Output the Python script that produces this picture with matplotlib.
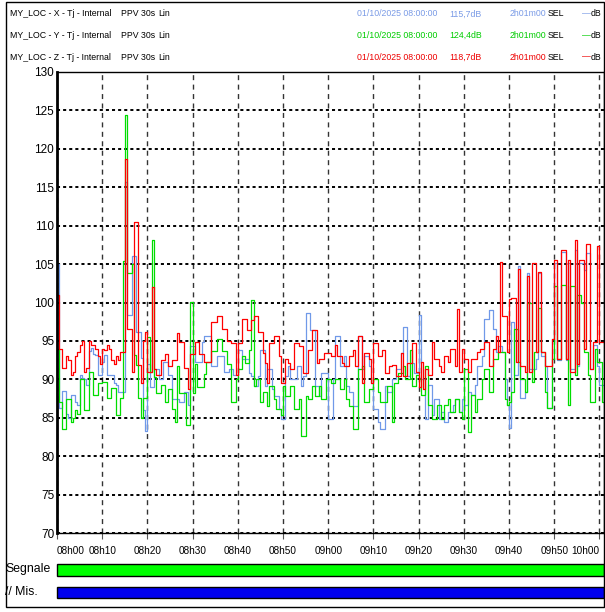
import matplotlib.pyplot as plt
import numpy as np
from matplotlib.patches import Rectangle
from matplotlib.transforms import ScaledTranslation

plt.rcParams['font.family'] = ['Liberation Sans', 'DejaVu Sans']
plt.rcParams['lines.scale_dashes'] = False

# PPV 30s (dB), one value every 30 s starting 01/10/2025 08:00:00
ppv_x = [
    105, 86.3, 88.5, 88.5, 85.5, 85, 88, 88, 87, 86.7,
    90.5, 90.2, 90, 89.3, 93.7, 94.1, 93.3, 93.2, 90.6, 90.6,
    92.3, 93.2, 90.6, 90.6, 90.6, 89.5, 89.3, 88.4, 88.4, 88.4,
    115.7, 98.4, 98.4, 106.1, 106.1, 96.2, 96.2, 92.8, 86, 83.3,
    92, 89, 89, 91.3, 91.3, 90, 90, 92.2, 92.2, 90.5,
    90.5, 87.5, 87.5, 87.5, 87.1, 87.1, 88.3, 88.3, 86.7, 94.4,
    94.4, 92.2, 92.2, 92.2, 94.8, 95.7, 95.7, 95.7, 91.8, 91.8,
    91.8, 93.1, 93.1, 93.1, 91, 91, 91.3, 91.3, 90.5, 90.5,
    93.8, 93.8, 92.6, 92.6, 92.6, 90.8, 90.4, 89.1, 89.1, 90.4,
    93.8, 93.8, 89.1, 91.3, 91.3, 88.7, 87.8, 87.8, 86.1, 84.8,
    84.8, 90.4, 91.7, 90, 90, 90, 91.7, 91.7, 89.1, 90.4,
    98.6, 98.6, 96.4, 96.4, 89.1, 89.1, 87.8, 90.8, 90.8, 90.8,
    84.8, 84.8, 90, 95.6, 95.6, 91.7, 91.7, 93, 89.1, 88.3,
    88.3, 86.5, 86.5, 95.6, 95.6, 91.3, 93, 93, 91.7, 89.5,
    86.1, 86.1, 84.4, 83.5, 83.5, 89.1, 88.3, 88.3, 90, 90,
    91.3, 91.3, 93.4, 96.8, 96.8, 90.4, 92.1, 92.1, 90.8, 90.8,
    98.4, 90, 90, 84.9, 89.2, 89.2, 85.3, 87.5, 87.5, 84.9,
    85.7, 84.5, 84.5, 85.7, 85.7, 86.6, 87.5, 87.5, 85.7, 87.5,
    86.6, 86.6, 88.3, 87.9, 87.9, 89.2, 91.8, 91.8, 93, 97.8,
    97.8, 99, 99, 96.5, 93.5, 94.3, 94.3, 93.5, 90, 86.7,
    83.7, 97.4, 90.6, 90.6, 104.7, 87.6, 87.6, 88.4, 103.8, 91.4,
    91.4, 91.4, 92.7, 103.8, 93.1, 93.1, 91.8, 86.3, 86.3, 95.3,
    105.1, 92.5, 92.5, 106.6, 106.6, 92.5, 105.1, 91.4, 91.4, 106.8,
    91.8, 105.1, 105.1, 104.2, 106.4, 106.4, 91.4, 94.5, 94.5, 91.8,
    89.3, 89.3,
]
ppv_y = [
    94, 87, 83.5, 83.5, 87.5, 87.5, 84.5, 85, 86, 85.5,
    90, 90, 86, 86, 91, 91, 88, 88, 89.5, 89.5,
    89.7, 89.7, 87.6, 87.6, 88.9, 88.9, 85.4, 85.4, 87.6, 105.4,
    124.4, 103.8, 103.8, 105, 93.2, 91.9, 87.6, 85, 87.6, 87.6,
    95.5, 91, 108.1, 90.3, 88.2, 88.2, 89.2, 89.2, 87, 88.7,
    88.7, 86.1, 84.4, 91.8, 88.2, 88.2, 88.2, 84, 84, 100.1,
    88.2, 92, 89, 89, 89, 90.7, 92.2, 92.2, 93.7, 93.7,
    93.7, 95.2, 95.2, 93.7, 93.7, 92, 92, 87, 87, 90,
    91.3, 91.3, 93, 92.1, 92.1, 93.8, 100.3, 89.1, 90, 90,
    87, 88.3, 88.3, 86.5, 89.1, 89.1, 87.4, 86.1, 86.1, 85.3,
    89.1, 87.8, 87.8, 89.1, 89.1, 86.1, 86.1, 87.4, 82.6, 82.6,
    87.8, 87.4, 87.4, 89.1, 87.8, 87.8, 89.1, 87.4, 87.4, 90,
    90, 89.5, 89.5, 90, 90, 88.7, 88.7, 90, 87.4, 86.5,
    86.5, 83.5, 83.5, 91.3, 91.3, 91.7, 87, 87, 88.7, 88.7,
    90, 90, 88.3, 87, 87, 87, 89.1, 89.1, 84.4, 89.5,
    89.5, 90.8, 90.8, 91.7, 90, 90, 93.8, 89.1, 89.1, 90.5,
    90, 87.9, 87.9, 91.8, 86.6, 86.6, 84.9, 84.9, 86.6, 86.6,
    84.9, 86.6, 86.6, 87.5, 85.7, 85.7, 87.5, 87.5, 85.7, 84.9,
    91.3, 91.3, 83.2, 87.9, 87.9, 85.7, 87.5, 87.5, 90, 91.3,
    91.3, 88.3, 88.3, 92.6, 92.6, 93.5, 93.5, 93.5, 87.5, 86.6,
    87.1, 88.4, 96.5, 96.5, 92.3, 90.1, 90.1, 88.4, 100, 100,
    89.7, 93.5, 93.5, 99.3, 93.5, 93.5, 88.4, 86.3, 86.3, 92.7,
    102.1, 92.7, 92.7, 102.3, 102.3, 92.7, 86.7, 102.1, 102.1, 90.6,
    101, 101, 100, 93.5, 93.5, 90.6, 87.1, 87.1, 94, 92.3,
    92.3, 87.1,
]
ppv_z = [
    101, 94, 91.5, 91.5, 93, 92.5, 90.5, 91, 93, 93.5,
    94.5, 95, 91, 91.5, 95, 94.5, 94.5, 94, 93, 92,
    94, 93.8, 94.5, 94, 92.5, 92, 93, 92.5, 93.5, 93.5,
    118.7, 96.6, 96.5, 91, 110.5, 110.5, 91.9, 89.5, 95, 96.2,
    91, 91, 102, 91.3, 90.5, 90.5, 92.5, 92.5, 93.3, 91.7,
    91.7, 92.5, 92.5, 96, 94.8, 94.8, 91.5, 91.5, 88.8, 93.3,
    93.3, 94.8, 94.8, 93.3, 93.3, 92.2, 92.2, 92.2, 97.4, 97.4,
    97.4, 98.2, 98.2, 96.5, 96.5, 95, 95, 94.7, 94.7, 90.5,
    94.7, 94.7, 97.9, 97.9, 96.4, 96.4, 97.7, 98.3, 98.3, 96.2,
    96.2, 93.4, 92.1, 89.5, 94.7, 94.7, 95.6, 95.6, 93, 89.5,
    89.5, 92.6, 92.1, 91.3, 91.3, 94.7, 94.7, 94.3, 94.3, 90.8,
    90.8, 93.8, 93.8, 96.4, 96.4, 92.1, 92.6, 92.6, 93.4, 93.4,
    93.4, 93, 93, 94.5, 93, 93, 92.1, 91.7, 91.7, 93,
    93, 93.8, 91.7, 95.6, 95.6, 89.5, 93.4, 93.4, 92.6, 89.5,
    94.7, 94.7, 93, 93, 93.8, 90.8, 90.8, 91.7, 91.9, 91.9,
    90.4, 90.4, 93.4, 90.4, 90.4, 92.1, 92.1, 94.7, 94.7, 91,
    89, 92.2, 88.8, 91.3, 90.5, 90.5, 94.8, 92.6, 92.6, 91.8,
    90.9, 93, 93, 92.2, 93.9, 93.9, 91.8, 99.1, 90.9, 93.9,
    92.6, 92.6, 90.9, 92.6, 92.6, 92.6, 93.5, 93.9, 93.9, 94.8,
    94.8, 91.8, 91.8, 93.9, 95.6, 93.5, 105.3, 98.2, 98.2, 93.5,
    100.4, 100.6, 100.6, 92.3, 104.4, 91.8, 91.8, 91, 103.4, 91,
    105.1, 105.1, 93.5, 104, 93.5, 93.5, 91.8, 91.8, 91.8, 95.3,
    105.5, 92.7, 92.7, 106.8, 106.8, 92.7, 105.5, 91, 91, 108.1,
    92, 105.5, 105.5, 94, 107.6, 107.6, 91.4, 94.9, 94.9, 107.4,
    94.9, 94.9,
]

series_names = ['MY_LOC - X - Tj - Internal', 'MY_LOC - Y - Tj - Internal', 'MY_LOC - Z - Tj - Internal']
series_colors = ['#7099e8', '#00dd00', '#ff0000']
text_colors = ['#7a9be6', '#00cc00', '#ee0000']
peak_labels = ['115,7dB', '124,4dB', '118,7dB']
start_label = '01/10/2025 08:00:00'
duration_label = '2h01m00'

tick_minutes = list(range(0, 121, 10))
tick_labels = ['08h00', '08h10', '08h20', '08h30', '08h40', '08h50', '09h00',
               '09h10', '09h20', '09h30', '09h40', '09h50', '10h00']
y_ticks = list(range(70, 131, 5))

W, H = 605, 612
fig = plt.figure(figsize=(W / 100, H / 100), dpi=100)

ax = fig.add_axes([57 / W, 1 - 533 / H, 547 / W, 461 / H])
for vals, col in zip([ppv_x, ppv_y, ppv_z], series_colors):
    t = np.arange(len(vals) + 1) * 0.5
    ax.step(t, list(vals) + [vals[-1]], where='post', color=col, lw=0.9)

ax.set_xlim(0, 121)
ax.set_ylim(70, 130)
ax.set_yticks(y_ticks)
ax.set_yticklabels([str(v) for v in y_ticks], fontsize=8.5)
ax.set_xticks(tick_minutes)
ax.set_xticklabels(tick_labels, fontsize=7.2)
xl = ax.get_xticklabels()
xl[0].set_horizontalalignment('left')
xl[-1].set_horizontalalignment('right')
xl[-1].set_transform(xl[-1].get_transform() + ScaledTranslation(3 / 100, 0, fig.dpi_scale_trans))
ax.tick_params(axis='y', length=0, pad=2)
ax.tick_params(axis='x', length=4, width=0.8, pad=5, color='#555555')

ax.grid(axis='y', color='black', lw=1.4, ls=(0, (2.2, 2.2)))
ax.grid(axis='x', color='#333333', lw=1.0, ls=(0, (3.6, 3.2)))
for side in ['top', 'right', 'bottom']:
    ax.spines[side].set_linewidth(1.0)
ax.spines['left'].set_linewidth(2.0)

# header
rows_y = [14, 35.5, 57]
for name, col, peak, ry in zip(series_names, text_colors, peak_labels, rows_y):
    y = 1 - ry / H
    kw = dict(va='center', fontsize=6.3)
    fig.text(10 / W, y, name, **kw)
    fig.text(121 / W, y, 'PPV 30s', **kw)
    fig.text(158 / W, y, 'Lin', **kw)
    fig.text(357 / W, y, start_label, color=col, **kw)
    fig.text(449 / W, y, peak, color=col, **kw)
    fig.text(510 / W, y, duration_label, color=col, **kw)
    fig.text(548 / W, y, 'SEL', **kw)
    fig.text(582 / W, y, '\u2014', color=col, **kw)
    fig.text(591 / W, y, 'dB', **kw)

# status bars
fig.text(5 / W, 1 - 569 / H, 'Segnale', va='center', fontsize=8.8)
fig.text(5 / W, 1 - 592 / H, '// Mis.', va='center', fontsize=8.8)
fig.patches.append(Rectangle((57 / W, 1 - 576 / H), 547 / W, 12 / H, transform=fig.transFigure,
                             facecolor='#00ff00', edgecolor='black', lw=1.0))
fig.patches.append(Rectangle((57 / W, 1 - 598 / H), 547 / W, 11 / H, transform=fig.transFigure,
                             facecolor='#0000ee', edgecolor='black', lw=1.0))

# outer frame
fig.patches.append(Rectangle((6 / W, 1 - 607 / H), 598 / W, 605 / H, transform=fig.transFigure,
                             facecolor='none', edgecolor='black', lw=1.0))

fig.savefig('out.png', dpi=100)
